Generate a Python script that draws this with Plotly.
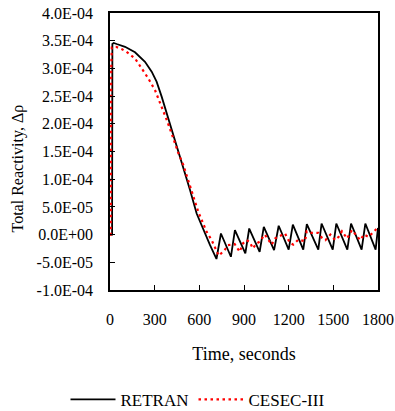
import plotly.graph_objects as go

# RETRAN (black solid)
retran_t = [0, 14, 16, 25, 45, 101, 168, 235, 280, 313, 347, 381, 414, 448, 492, 537, 582, 627, 672, 715,
            745, 812, 839, 909, 935, 1005, 1033, 1102, 1133, 1200, 1228, 1298, 1322, 1399, 1421, 1496,
            1520, 1594, 1619, 1690, 1715, 1784, 1800]
retran_v = [0.0, 0.0, 3.44, 3.46, 3.44, 3.39, 3.29, 3.12, 2.94, 2.76, 2.49, 2.19, 1.89, 1.59, 1.23, 0.81,
            0.38, 0.08, -0.19, -0.44,
            0.02, -0.40, 0.08, -0.34, 0.11, -0.31, 0.14, -0.28, 0.16, -0.27, 0.18, -0.27, 0.19, -0.27, 0.20,
            -0.27, 0.20, -0.27, 0.20, -0.27, 0.20, -0.27, 0.12]

# CESEC-III (red dotted)
cesec_t = [0, 5, 8, 12, 40, 78, 111, 168, 213, 257, 302, 347, 381, 425, 459, 492, 548, 593, 649, 683, 730,
           770, 792, 837, 871, 893, 916, 938, 960, 983, 1005, 1039, 1063, 1086, 1108, 1153, 1175, 1209,
           1231, 1265, 1310, 1321, 1354, 1399, 1421, 1447, 1480, 1513, 1536, 1558, 1592, 1625, 1648,
           1681, 1705, 1737, 1760, 1793, 1800]
cesec_v = [0.0, 0.0, 3.0, 3.38, 3.39, 3.35, 3.30, 3.18, 3.00, 2.82, 2.61, 2.31, 2.07, 1.74, 1.47, 1.26,
           0.77, 0.41, 0.05, -0.10, -0.38,
           -0.28, -0.19, -0.17, -0.31, -0.16, -0.10, -0.13, -0.25, -0.16, -0.13, 0.0, -0.09, -0.18, -0.07,
           0.0, 0.02, -0.15, -0.18, -0.09, -0.12, 0.06, 0.03, 0.03, -0.05, -0.10, 0.0, -0.10, -0.04, 0.06,
           -0.07, 0.08, 0.0, -0.10, 0.0, -0.04, 0.02, 0.11, 0.08]

y_tickvals = [-1.0e-4, -5.0e-5, 0.0, 5.0e-5, 1.0e-4, 1.5e-4, 2.0e-4, 2.5e-4, 3.0e-4, 3.5e-4, 4.0e-4]
y_ticktext = ["-1.0E-04", "-5.0E-05", "0.0E+00", "5.0E-05", "1.0E-04", "1.5E-04", "2.0E-04",
              "2.5E-04", "3.0E-04", "3.5E-04", "4.0E-04"]
x_tickvals = [0, 300, 600, 900, 1200, 1500, 1800]
y_title = "Total Reactivity, \u0394\u03c1"
x_title = "Time, seconds"

scale = 1e-4
font_family = "Liberation Serif, Times New Roman, serif"

fig = go.Figure()
fig.add_trace(go.Scatter(x=retran_t, y=[v * scale for v in retran_v], mode="lines", name="RETRAN",
                         line=dict(color="black", width=1.8)))
fig.add_trace(go.Scatter(x=cesec_t, y=[v * scale for v in cesec_v], mode="lines", name="CESEC-III",
                         line=dict(color="#ff0000", width=2.2, dash="2.5px,3.5px")))

fig.update_layout(
    width=395, height=411,
    margin=dict(l=110, r=17, t=13, b=121, autoexpand=False),
    paper_bgcolor="white", plot_bgcolor="white",
    font=dict(family=font_family, size=16, color="black"),
    showlegend=True,
    legend=dict(orientation="h", xref="container", yref="container", x=0.5, y=0.027,
                xanchor="center", yanchor="middle", font=dict(size=17), itemwidth=45,
                bgcolor="rgba(0,0,0,0)"),
    annotations=[dict(text=y_title, textangle=-90, xref="paper", yref="paper",
                      x=-0.345, y=0.437, xanchor="center", yanchor="middle", showarrow=False,
                      font=dict(size=16))],
)
fig.update_xaxes(range=[0, 1800], tickvals=x_tickvals, ticks="inside", ticklen=5, tickcolor="black",
                 showline=True, linecolor="black", linewidth=1.5, mirror=True, showgrid=False,
                 zeroline=False, ticklabelstandoff=14, automargin=False,
                 title=dict(text=x_title, font=dict(size=18), standoff=20))
fig.update_yaxes(range=[-1.0e-4, 4.0e-4], tickvals=y_tickvals, ticktext=y_ticktext, ticks="inside",
                 ticklen=5, tickcolor="black", showline=True, linecolor="black", linewidth=1.5,
                 mirror=True, showgrid=False, zeroline=False, ticklabelstandoff=12, automargin=False)

fig.write_html("out.html", post_script="document.body.style.margin='0';",
               config={"displayModeBar": False})
